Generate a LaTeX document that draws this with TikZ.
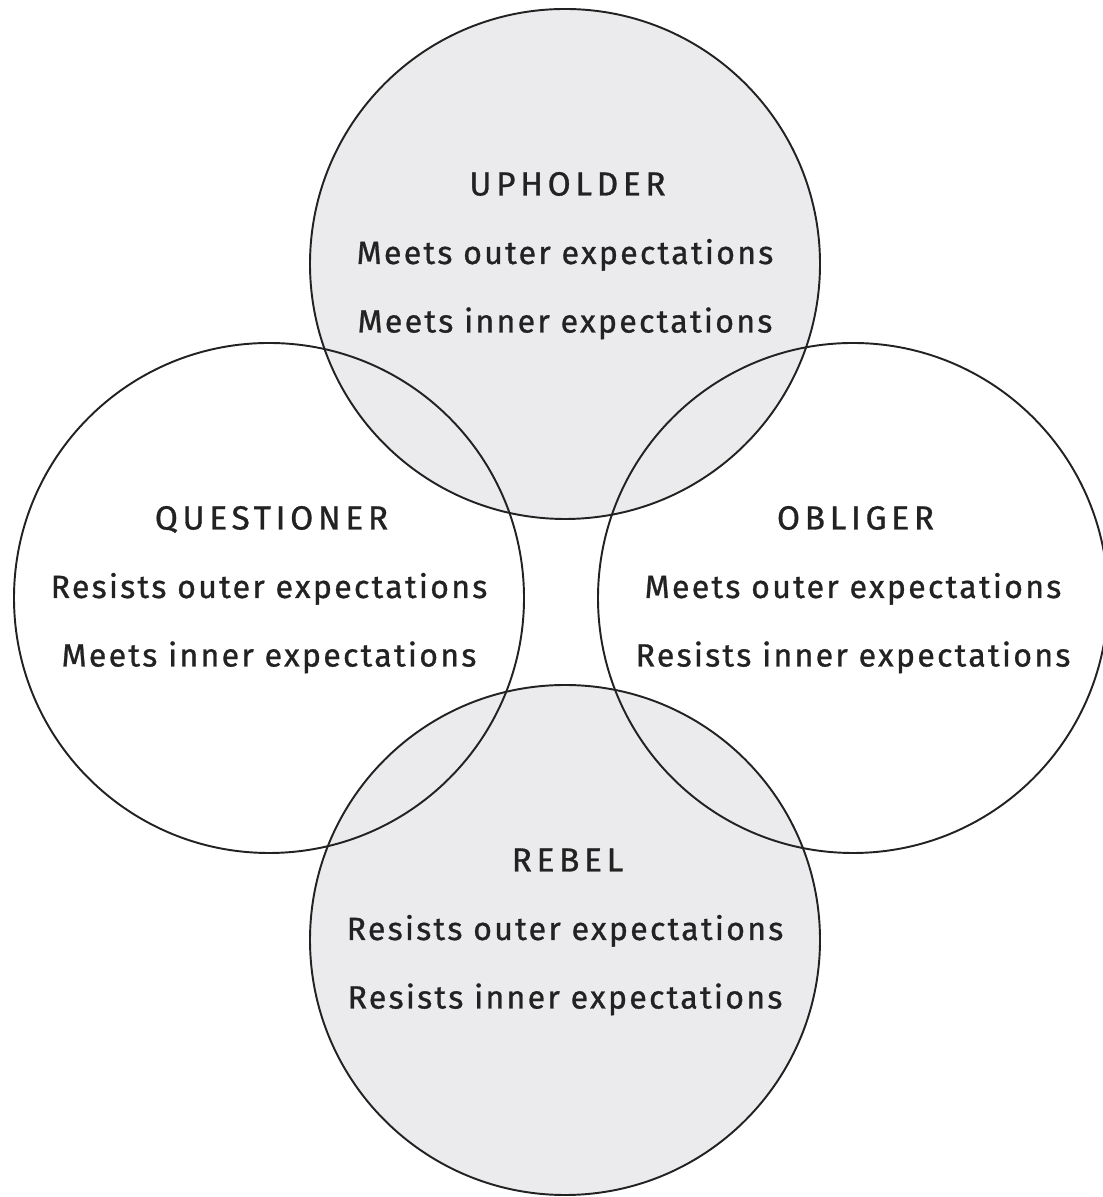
\documentclass[tikz,border=0pt]{standalone}
\usepackage{fontspec}
\setmainfont{Fira Sans}[LetterSpace=7, FakeBold=0.9]
\newfontfamily\titlefont{Fira Sans}[LetterSpace=14, FakeBold=0.9]
\definecolor{ringgray}{HTML}{EBEBED}
\definecolor{inkgray}{HTML}{222222}
\begin{document}
\begin{tikzpicture}[line join=round, line cap=round,
  ring/.style={circle, draw=inkgray, line width=1.1pt, minimum size=10.2cm, inner sep=0pt},
  typename/.style={anchor=base, text=inkgray, font=\titlefont\fontsize{19}{21}\selectfont},
  typeline/.style={anchor=base, text=inkgray, font=\fontsize{18.3}{20}\selectfont}]
\def\r{5.1} % radius
\def\gap{1.37} % line spacing
\useasboundingbox (0,0) rectangle (22.04,23.94);
% filled circles
\node[ring, fill=ringgray] (upholder) at (11.30,18.66) {};
\node[ring, fill=ringgray] (rebel) at (11.30,5.14) {};
% open circles
\node[ring] (questioner) at (5.38,11.98) {};
\node[ring] (obliger) at (17.06,11.98) {};
% texts
\foreach \n/\t/\a/\b in {
  upholder/UPHOLDER/Meets outer expectations/Meets inner expectations,
  questioner/QUESTIONER/Resists outer expectations/Meets inner expectations,
  obliger/OBLIGER/Meets outer expectations/Resists inner expectations,
  rebel/REBEL/Resists outer expectations/Resists inner expectations}{
  \node[typename, xshift=0.05cm] (\n-name) at ([yshift=\gap cm]\n.center) {\t};
  \node[typeline] (\n-outer) at (\n.center) {\a};
  \node[typeline] (\n-inner) at ([yshift=-\gap cm]\n.center) {\b};
}
\end{tikzpicture}
\end{document}
